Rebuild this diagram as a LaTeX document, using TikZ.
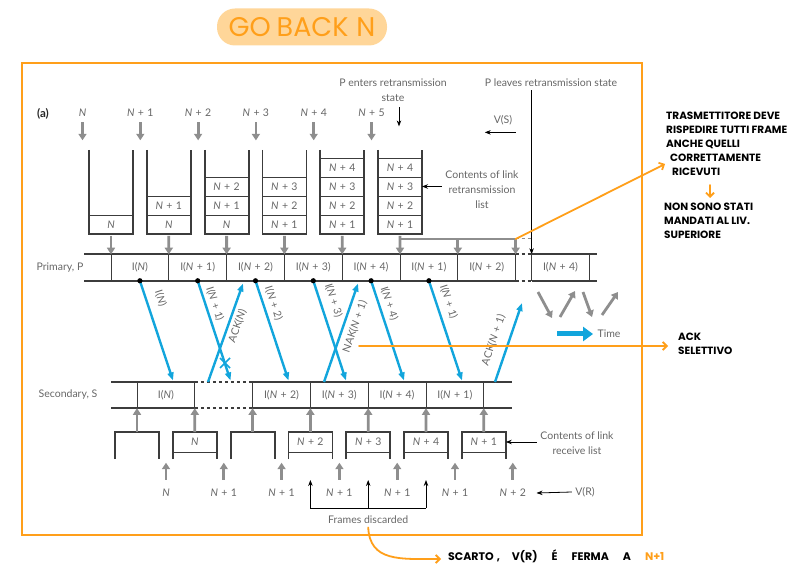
\documentclass[tikz,border=0pt]{standalone}
\usepackage{fontspec}
\setmainfont{Lato}
\newfontfamily\handfont{Poppins}
\usetikzlibrary{positioning,arrows.meta}
\definecolor{ink}{HTML}{666666}
\definecolor{wire}{HTML}{3C3C3C}
\definecolor{ash}{HTML}{8E8E8E}
\definecolor{sky}{HTML}{12A5DC}
\definecolor{amber}{HTML}{FF9F1A}
\definecolor{peach}{HTML}{FFD699}
\newcommand\seqN{\textit{N}}
\newcommand\seqP[1]{\textit{N}\hspace{0.32em}+\hspace{0.32em}#1}

\begin{document}
\begin{tikzpicture}[x=1pt, y=-1pt,
  every node/.style={font=\fontsize{10.5}{15}\selectfont, text=ink},
  cell/.style={draw=wire, line width=0.9pt, outer sep=0pt, inner sep=0pt, minimum width=57.8pt, minimum height=26.5pt},
  slot/.style={draw=wire, line width=0.9pt, outer sep=0pt, inner sep=0pt, minimum width=44pt, minimum height=19pt},
  rslot/.style={slot, minimum height=20pt},
  rail/.style={wire, line width=1.6pt},
  wall/.style={wire, line width=1.8pt},
  feed/.style={ash, line width=2.8pt, -{Triangle[length=6.5pt,width=8pt]}},
  msg/.style={sky, line width=2.4pt, -{Triangle[length=8pt,width=6pt]}},
  along/.style={sloped, inner sep=1pt},
  pointer/.style={black, line width=0.8pt, -{Stealth[length=6pt,width=4.5pt]}},
  pen/.style={amber, line width=1.8pt, line cap=round, -{Straight Barb[length=4pt,width=8pt]}},
  hand/.style={font=\handfont\bfseries\fontsize{10.5}{14}\selectfont, text=black, align=left, inner sep=0pt, anchor=north west}
]
\useasboundingbox (0,0) rectangle (801,569);
\node[fill=peach, rounded corners=18pt, minimum width=170pt, minimum height=37pt, text=amber, font=\handfont\fontsize{27}{30}\selectfont] (title) at (302,27) {GO\hspace{6pt}BACK\hspace{8pt}N};
\draw[amber, line width=2.5pt] (22,63) rectangle (642,535);
\node[font=\bfseries\fontsize{11.5}{13}\selectfont, text=black!85] (part) at (43,114) {(a)};

\foreach \x/\t [count=\i] in {82.5/{\seqN}, 140.3/{\seqP{1}}, 198.1/{\seqP{2}}, 255.9/{\seqP{3}}, 313.7/{\seqP{4}}, 371.5/{\seqP{5}}} {
  \node (in\i) at (\x,113) {\t};
  \draw[feed] ([yshift=-2pt]in\i.south) -- ++(0,18);
}

\node[slot] (r11) at (111,224.5) {\seqN};
\node[slot] (r21) at (168.8,224.5) {\seqN};
\node[slot, above=0pt of r21] (r22) {\seqP{1}};
\node[slot] (r31) at (226.6,224.5) {\seqN};
\node[slot, above=0pt of r31] (r32) {\seqP{1}};
\node[slot, above=0pt of r32] (r33) {\seqP{2}};
\node[slot] (r41) at (284.4,224.5) {\seqP{1}};
\node[slot, above=0pt of r41] (r42) {\seqP{2}};
\node[slot, above=0pt of r42] (r43) {\seqP{3}};
\node[slot] (r51) at (342.2,224.5) {\seqP{1}};
\node[slot, above=0pt of r51] (r52) {\seqP{2}};
\node[slot, above=0pt of r52] (r53) {\seqP{3}};
\node[slot, above=0pt of r53] (r54) {\seqP{4}};
\node[slot] (r61) at (400,224.5) {\seqP{1}};
\node[slot, above=0pt of r61] (r62) {\seqP{2}};
\node[slot, above=0pt of r62] (r63) {\seqP{3}};
\node[slot, above=0pt of r63] (r64) {\seqP{4}};
\foreach \b in {r11,r21,r31,r41,r51,r61}
  \draw[wall] (\b.south west |- 0,150) -- (\b.south west) -- (\b.south east) -- (\b.south east |- 0,150);

\node[cell] (p1) at (139.9,267.5) {I(\seqN)};
\node[cell, right=0pt of p1] (p2) {I(\seqP{1})};
\node[cell, right=0pt of p2] (p3) {I(\seqP{2})};
\node[cell, right=0pt of p3] (p4) {I(\seqP{3})};
\node[cell, right=0pt of p4] (p5) {I(\seqP{4})};
\node[cell, right=0pt of p5] (p6) {I(\seqP{1})};
\node[cell, right=0pt of p6] (p7) {I(\seqP{2})};
\node[cell] (p9) at (560.5,267.5) {I(\seqP{4})};
\coordinate (p8n) at (515.6,254.25);
\coordinate (p8s) at (515.6,280.75);
\draw[wire, line width=0.9pt] (p8n) -- (p8s);
\draw[rail] ([xshift=-27pt]p1.north west) -- (p8n);
\draw[rail] ([xshift=-27pt]p1.south west) -- (p8s);
\draw[rail, dashed] (p8n) -- (p9.north west);
\draw[rail, dashed] (p8s) -- (p9.south west);
\draw[rail] (p9.north west) -- ([xshift=8pt]p9.north east);
\draw[rail] (p9.south west) -- ([xshift=8pt]p9.south east);
\node (prim) at (60,267.5) {Primary, P};

\foreach \b/\p in {r11/p1,r21/p2,r31/p3,r41/p4,r51/p5,r61/p6}
  \draw[feed] (\b.south) ++(0,2) -- (\p.north west);
\coordinate (barEnd) at (515.6,239);
\draw[ash, line width=2.8pt] (r61.south |- 0,239) -- (barEnd);
\draw[feed] (p7.north west |- 0,239) -- (p7.north west);
\draw[feed] (barEnd) -- (p8n);
\draw[ash, line width=1pt, dashed] (barEnd) -- ++(15,0);

\node[align=center] (enter) at (393,90.5) {P enters retransmission\\state};
\draw[pointer] ([xshift=6pt,yshift=-2pt]enter.south) -- ++(0,19);
\node (leave) at (551,83) {P leaves retransmission state};
\draw[pointer] (leave.south -| p9.north west) -- (p9.north west);
\node (vs) at (503,120) {V(S)};
\draw[pointer] ([yshift=-4pt]vs.south east) -- ++(-31,0);
\node[align=center] (cr) at (482,190) {Contents of link\\retransmission\\list};
\draw[pointer] (cr.west |- r63.east) -- (r63.east);

\node[cell] (s1) at (165.9,395) {I(\seqN)};
\node[cell] (s2) at (281.5,395) {I(\seqP{2})};
\node[cell, right=0pt of s2] (s3) {I(\seqP{3})};
\node[cell, right=0pt of s3] (s4) {I(\seqP{4})};
\node[cell, right=0pt of s4] (s5) {I(\seqP{1})};
\draw[rail] ([xshift=-26pt]s1.north west) -- (s1.north east);
\draw[rail] ([xshift=-26pt]s1.south west) -- (s1.south east);
\draw[rail, dashed] (s1.north east) -- (s2.north west);
\draw[rail, dashed] (s1.south east) -- (s2.south west);
\draw[rail] (s2.north west) -- ([xshift=28pt]s5.north east);
\draw[rail] (s2.south west) -- ([xshift=28pt]s5.south east);
\node (sec) at (68,395) {Secondary, S};

\coordinate (e1) at (173,380.5);
\coordinate (e2) at (230.5,380.5);
\coordinate (e4) at (288.5,380.5);
\coordinate (e5) at (346,380.5);
\coordinate (e7) at (404,380.5);
\coordinate (e8) at (462,380.5);
\coordinate (k1) at (208,382);
\coordinate (k1e) at (243,283.5);
\coordinate (k2) at (324,382);
\coordinate (k2e) at (358,283.5);
\coordinate (k3) at (495,382);
\coordinate (k3e) at (522,303);
\draw[msg] (p1.south) -- node[along, above=7pt, pos=0.22] {I(\seqN)} (e1);
\draw[msg] (p2.south) -- node[along, above=2pt, pos=0.26] {I(\seqP{1})} (e2);
\draw[msg] (k1) -- node[along, below=2pt, pos=0.6] {ACK(\seqN)} (k1e);
\draw[msg] (p3.south) -- node[along, above=3pt, pos=0.26] {I(\seqP{2})} (e4);
\draw[msg] (p4.south) -- node[along, above=6pt, pos=0.24] {I(\seqP{3})} (e5);
\draw[msg] (k2) -- node[along, below=4pt, pos=0.6] {NAK(\seqP{1})} (k2e);
\draw[msg] (p5.south) -- node[along, above=3pt, pos=0.26] {I(\seqP{4})} (e7);
\draw[msg] (p6.south) -- node[along, above=5pt, pos=0.25] {I(\seqP{1})} (e8);
\draw[msg] (k3) -- node[along, above=8pt, pos=0.47] {ACK(\seqP{1})} (k3e);
\coordinate (lost) at (225,363);
\draw[sky, line width=1.5pt] (lost) +(-5,-5) -- +(5,5) +(-5,5) -- +(5,-5);
\foreach \p in {p1,p2,p3,p4,p5,p6}
  \fill (\p.south) circle (2.6pt);

\draw[feed] (538,292) -- (552,318);
\draw[feed] (560,317) -- (575,291);
\draw[feed] (583,292) -- (592,317);
\draw[feed] (602,315) -- (618,292);
\node (time) at (609,334) {Time};
\draw[sky, line width=5pt, -{Triangle[length=10pt,width=14pt]}] ([xshift=-37pt]time.west) -- ([xshift=-1pt]time.west);

\node[rslot, draw=none] (q1) at (137,442) {};
\node[rslot] (q2) at (194.8,442) {\seqN};
\node[rslot, draw=none] (q3) at (252.6,442) {};
\node[rslot] (q4) at (310.4,442) {\seqP{2}};
\node[rslot] (q5) at (368.2,442) {\seqP{3}};
\node[rslot] (q6) at (426,442) {\seqP{4}};
\node[rslot] (q7) at (483.8,442) {\seqP{1}};
\foreach \b in {q1,q2,q3,q4,q5,q6,q7}
  \draw[wall] (\b.north west |- 0,459) -- (\b.north west) -- (\b.north east) -- (\b.north east |- 0,459);
\foreach \b/\c in {q1/s1.south west, q2/s1.south east, q3/s2.south west, q4/s3.south west, q5/s4.south west, q6/s5.south west, q7/s5.south east}
  \draw[feed] (\b.north) -- (\c);
\node[align=center] (cl) at (577,443) {Contents of link\\receive list};
\draw[pointer] (cl.west |- q7.east) -- (q7.east);

\foreach \x/\t [count=\i] in {166/{\seqN}, 223.8/{\seqP{1}}, 281.6/{\seqP{1}}, 339.4/{\seqP{1}}, 397.2/{\seqP{1}}, 455/{\seqP{1}}, 512.8/{\seqP{2}}} {
  \node (v\i) at (\x,493) {\t};
  \draw[feed] ([yshift=6pt]v\i.north) -- ++(0,-17);
}
\node (vr) at (585,492) {V(R)};
\draw[pointer] (vr.west) -- ([xshift=7pt]v7.east);

\node (fd) at (368.2,520) {Frames discarded};
\draw[black, line width=0.8pt] (310.4,508) -- (426,508);
\foreach \x in {310.4,368.2,426}
  \draw[pointer] (\x,508) -- (\x,480);

\coordinate (noteTip) at (665,164);
\draw[pen] (barEnd) -- (noteTip);
\node[hand] (redo) at (666,112) {TRASMETTITORE DEVE\\RISPEDIRE TUTTI FRAME\\ANCHE QUELLI\\\hspace{4pt}CORRETTAMENTE\\\hspace{6pt}RICEVUTI};
\draw[pen] (710,185) -- (710,198);
\node[hand] (kept) at (664,203) {NON SONO STATI\\MANDATI AL LIV.\\SUPERIORE};
\coordinate (nakMid) at (359,346);
\draw[pen] (nakMid) -- (668,346);
\node[hand] (sel) at (678,333) {ACK\\SELETTIVO};
\draw[pen] (fd.south) .. controls (370,562) and (400,559) .. (441,559);
\node[hand, anchor=west, font=\handfont\bfseries\fontsize{11}{13}\selectfont] (drop) at (448,556) {SCARTO\hspace{3pt},\hspace{12pt}V(R)\hspace{14pt}É\hspace{14pt}FERMA\hspace{14pt}A\hspace{14pt}\textcolor{amber}{N+1}};
\end{tikzpicture}
\end{document}
